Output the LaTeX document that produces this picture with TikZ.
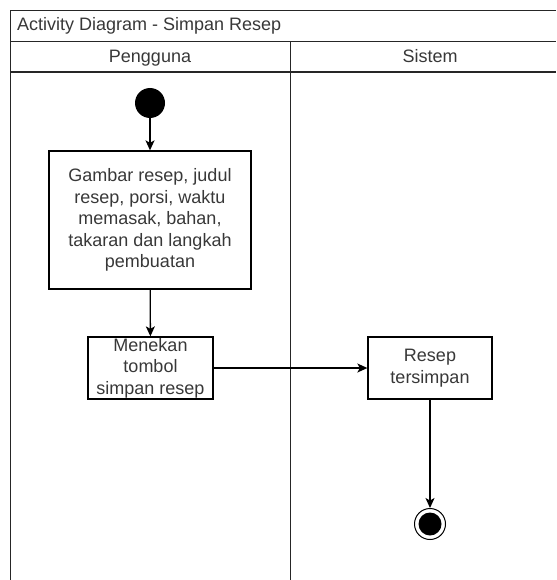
\documentclass[tikz,border=0pt]{standalone}
\usepackage{fontspec}
\setmainfont{Liberation Sans}
\usetikzlibrary{arrows.meta}
\begin{document}
\begin{tikzpicture}[x=1pt,y=-1pt,
  every node/.style={font=\fontsize{18}{21.6}\selectfont, text=black!78},
  frame/.style={line width=1.4pt, draw=black!85},
  action/.style={rectangle, draw=black, line width=1.3pt, align=center,
    inner sep=0pt, text=black!78},
  flow/.style={line width=1.3pt, draw=black,
    -{Stealth[length=10pt,width=9pt,inset=2.5pt]}},
]
\useasboundingbox (0,0) rectangle (556,580);

% swimlane frame: title bar, lane headers and the divider
\draw[frame] (556,10.7) -- (10.7,10.7) -- (10.7,580);
\draw[frame] (10.7,41.7) -- (556,41.7);
\draw[frame] (10.7,72) -- (556,72);
\draw[frame] (290.3,41.7) -- (290.3,580);

\node[anchor=base west, inner sep=0pt] (title) at (17,31) {Activity Diagram - Simpan Resep};
\node[anchor=base, inner sep=0pt] (lane1) at (150,63) {Pengguna};
\node[anchor=base, inner sep=0pt] (lane2) at (430,63) {Sistem};

% activity nodes
\node[circle, fill=black, minimum size=30pt, inner sep=0pt] (start) at (150,103) {};
\node[action, minimum width=202pt, minimum height=138pt] (a1) at (150,220)
  {Gambar resep, judul\\resep, porsi, waktu\\memasak, bahan,\\takaran dan langkah\\pembuatan};
\node[action, minimum width=125pt, minimum height=62pt] (a2) at (150.5,368)
  {Menekan\\tombol\\simpan resep};
\node[action, minimum width=124pt, minimum height=62pt] (a3) at (430,368)
  {Resep\\tersimpan};
\node[circle, draw=black, line width=1pt, minimum size=31pt, inner sep=0pt] (end) at (430,524) {};
\fill[black] (end.center) circle (11.5);

% control flow
\draw[flow] (start) -- (a1);
\draw[flow] (a1) -- (a2);
\draw[flow] (a2) -- (a3);
\draw[flow] (a3) -- (end);
\end{tikzpicture}
\end{document}
